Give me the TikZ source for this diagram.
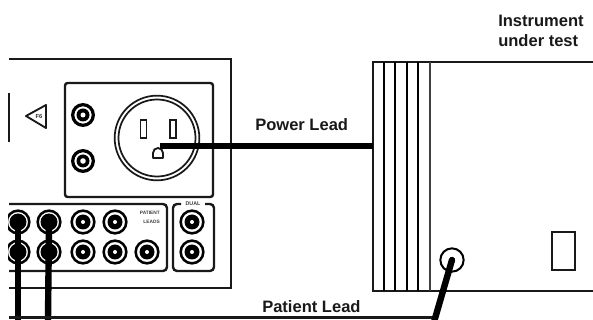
\documentclass[tikz,border=0pt]{standalone}
\usepackage{fontspec}
\setmainfont{Liberation Sans}
\begin{document}
\begin{tikzpicture}[x=0.75pt,y=-0.75pt,
  ln/.style={draw=black!90,line width=1.8pt},
  thin ln/.style={draw=black!90,line width=1.4pt},
  lead/.style={draw=black,line width=4.8pt},
  lab/.style={font=\bfseries\fontsize{12.4pt}{15pt}\selectfont,text=black!90,inner sep=0pt,align=left},
  tiny lab/.style={font=\bfseries\fontsize{3.6pt}{6.6pt}\selectfont,text=black!75,inner sep=0pt,align=right},
  ]
\useasboundingbox (0,0) rectangle (593,320);
\fill[white] (0,0) rectangle (593,320);
% main unit
\draw[ln] (9,59) -- (231,59) -- (231,288) -- (9,288);
\draw[thin ln] (9,93) -- (9,142);
% F6
\coordinate (ftip) at (26,116);
\draw[draw=black!90,line width=1.4pt,line join=round] (ftip) -- (46,105) -- (46,128) -- cycle;
\node[font=\bfseries\fontsize{4.4pt}{5pt}\selectfont,text=black!80,inner sep=0pt] (f6) at (39,116.5) {F6};
% power panel
\draw[ln,rounded corners=2pt] (65,83) rectangle (213,197);
\node[circle,draw=black,line width=2.4pt,minimum size=15.5pt,inner sep=0pt] (p1) at (83,115) {};
\fill[black] (p1) circle (6.5);
\fill[white] (p1) circle (2.5);
\node[circle,draw=black,line width=2.4pt,minimum size=15.5pt,inner sep=0pt] (p2) at (83,161) {};
\fill[black] (p2) circle (6.5);
\fill[white] (p2) circle (2.8);
% outlet
\node[circle,draw=black!90,line width=1.3pt,minimum size=63.5pt,inner sep=0pt] (outlet) at (157,138) {};
\draw[draw=black!90,line width=1.3pt] (157,138) circle (38.5);
\draw[thin ln] (140.5,120) rectangle (146.5,138);
\draw[thin ln] (170,120) rectangle (176,138);
\draw[thin ln,line join=round] (153,158) -- (153,153) arc[start angle=180,end angle=360,radius=5] -- (163,158) -- cycle;
\coordinate (plug) at (160,146);
% patient panel
\draw[ln,rounded corners=3pt] (9,204) -- (167,204) -- (167,271) -- (9,271);
\foreach \n/\x/\y in {a/18/222,b/49/222,c/83/222,d/115/222,e/18/252,f/49/252,g/83/252,h/115/252,i/147/252,j/192/222,k/192/252}{
  \node[circle,draw=black,line width=1.9pt,minimum size=17pt,inner sep=0pt] (\n) at (\x,\y) {};
  \fill[black] (\n) circle (7.5);
  \fill[white] (\n) circle (2);
}
\fill[white] (0,200) rectangle (8.2,275);
\foreach \n in {a,b,e,f}{\fill[black] (\n) circle (8.5);}
\node[tiny lab,anchor=north east] (pl) at (160,211) {PATIENT\\LEADS};
% dual panel
\draw[ln,rounded corners=3pt] (181,204) -- (173,204) -- (173,271) -- (214,271) -- (214,204) -- (205,204);
\node[font=\bfseries\fontsize{4pt}{5pt}\selectfont,text=black!75,inner sep=0pt] (dual) at (193,204) {DUAL};
% instrument
\coordinate (tl) at (373,62);
\coordinate (bl) at (373,291);
\draw[ln] (593,62) -- (tl) -- (bl) -- (593,291);
\foreach \x/\c in {384/black,395/black,407/black,418/black,430/black!75}{
  \draw[draw=\c,line width=1.5pt] (\x,62) -- (\x,291);
}
\draw[draw=black!90,line width=1.7pt] (552,232) rectangle (575,270);
\node[circle,draw=black,line width=1.5pt,minimum size=17.5pt,inner sep=0pt] (port) at (452,260) {};
% leads
\coordinate (pw) at (373,146);
\draw[lead] (plug) -- (pw);
\coordinate (lb1) at (18,320);
\coordinate (lb2) at (48,320);
\coordinate (b9) at (9,317.5);
\coordinate (bend) at (436,317.5);
\coordinate (pe) at (434,322);
\draw[lead] (a.center) -- (lb1);
\draw[lead] (b.center) -- (lb2);
\draw[ln,line width=2pt] (b9) -- (bend);
\draw[lead,line cap=round] (port.center) -- (pe);
% labels
\node[lab,anchor=west] (pwl) at (255,125) {Power Lead};
\node[lab,anchor=west] (ptl) at (262,307) {Patient Lead};
\node[lab,anchor=north west] (inst) at (498,14.5) {Instrument\\under test};
\end{tikzpicture}
\end{document}
